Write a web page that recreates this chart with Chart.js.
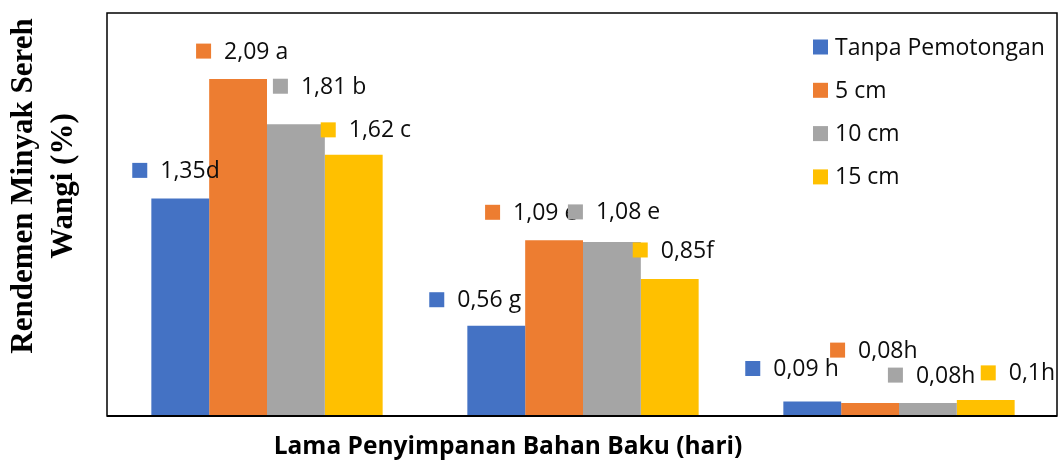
<!DOCTYPE html>
<html>
<head>
<meta charset="utf-8">
<script src="https://cdn.jsdelivr.net/npm/chart.js@4.4.0/dist/chart.umd.min.js"></script>
<style>
  html, body { margin: 0; padding: 0; background: #fff; }
  #wrap { width: 1059px; height: 464px; position: relative; }
</style>
</head>
<body>
<div id="wrap"><canvas id="yieldChart"></canvas></div>
<script>
// Storage groups (category labels are not printed on the original chart)
const storageGroups = ['Kelompok 1', 'Kelompok 2', 'Kelompok 3'];

const seriesNames = ['Tanpa Pemotongan', '5 cm', '10 cm', '15 cm'];
const seriesColors = ['#4472C4', '#ED7D31', '#A5A5A5', '#FFC000'];

// Rendemen (%) per series
const tanpaPemotongan = [1.35, 0.56, 0.09];
const potong5cm = [2.09, 1.09, 0.08];
const potong10cm = [1.81, 1.08, 0.08];
const potong15cm = [1.62, 0.85, 0.10];

// Notation letters (DMRT) printed after each value
const notasiTanpa = ['d', ' g', ' h'];
const notasi5cm = [' a', ' e', 'h'];
const notasi10cm = [' b', ' e', 'h'];
const notasi15cm = [' c', 'f', 'h'];

const yMin = 0;
const yMax = 2.5;

const allValues = [tanpaPemotongan, potong5cm, potong10cm, potong15cm];
const allNotes = [notasiTanpa, notasi5cm, notasi10cm, notasi15cm];

// hand placement of each label box, [dx, dy] from bar centre / bar top (like Excel dragged labels)
const labelNudge = [
    [[-48, -28], [-67, -26], [-67, -33]],
    [[-42, -28], [-69, -28], [-40, -53]],
    [[-23, -38], [-44, -30], [-40, -28]],
    [[-33, -25], [-37, -29], [-5, -27]]
];

const LABEL_FONT = '23px "Open Sans", sans-serif';

const valueLabels = {
    id: 'valueLabels',
    afterDatasetsDraw(chart) {
        const ctx = chart.ctx;
        ctx.save();
        ctx.font = LABEL_FONT;
        ctx.textBaseline = 'middle';
        ctx.textAlign = 'left';
        chart.data.datasets.forEach((ds, i) => {
            chart.getDatasetMeta(i).data.forEach((bar, j) => {
                const nudge = labelNudge[i][j];
                const sx = bar.x + nudge[0];
                const cy = bar.y + nudge[1];
                ctx.fillStyle = seriesColors[i];
                ctx.fillRect(sx, cy - 7.5, 15, 15);
                ctx.fillStyle = '#0d0d0d';
                const txt = String(ds.data[j]).replace('.', ',') + allNotes[i][j];
                ctx.fillText(txt, sx + 28, cy + 1);
            });
        });
        ctx.restore();
    }
};

const frameAndText = {
    id: 'frameAndText',
    afterDraw(chart) {
        const ctx = chart.ctx;
        const a = chart.chartArea;
        const fl = a.left - 2;
        ctx.save();
        // plot frame
        ctx.strokeStyle = '#000';
        ctx.lineWidth = 1.5;
        ctx.strokeRect(fl, a.top, a.right - fl, a.bottom - a.top);
        ctx.lineWidth = 2;
        ctx.beginPath();
        ctx.moveTo(fl, a.bottom);
        ctx.lineTo(a.right, a.bottom);
        ctx.stroke();

        // legend, top right inside the plot
        ctx.font = LABEL_FONT;
        ctx.textBaseline = 'middle';
        ctx.textAlign = 'left';
        seriesNames.forEach((name, i) => {
            const y = a.top + 34 + i * 43.3;
            ctx.fillStyle = seriesColors[i];
            ctx.fillRect(a.right - 244, y - 7.5, 15, 15);
            ctx.fillStyle = '#0d0d0d';
            ctx.fillText(name, a.right - 222, y + 1);
        });

        // x axis title
        ctx.fillStyle = '#000';
        ctx.font = 'bold 24.5px "Open Sans", sans-serif';
        ctx.textAlign = 'center';
        ctx.fillText('Lama Penyimpanan Bahan Baku (hari)', 508, 447);

        // y axis title, two lines, rotated
        ctx.translate(44, 186);
        ctx.rotate(-Math.PI / 2);
        ctx.font = 'bold 31px "Liberation Serif", "Times New Roman", serif';
        ctx.fillText('Rendemen Minyak Sereh', 0, -20);
        ctx.fillText('Wangi (%)', 0, 20);
        ctx.restore();
    }
};

new Chart(document.getElementById('yieldChart'), {
    type: 'bar',
    data: {
        labels: storageGroups,
        datasets: allValues.map((vals, i) => ({
            label: seriesNames[i],
            data: vals,
            backgroundColor: seriesColors[i],
            borderWidth: 0,
            barPercentage: 1.0,
            categoryPercentage: 0.732
        }))
    },
    options: {
        responsive: true,
        maintainAspectRatio: false,
        animation: false,
        layout: { padding: { left: 109, top: 13, right: 2, bottom: 48 } },
        plugins: { legend: { display: false }, tooltip: { enabled: false } },
        scales: {
            x: { display: false },
            y: { display: false, min: yMin, max: yMax }
        }
    },
    plugins: [valueLabels, frameAndText]
});
</script>
</body>
</html>
